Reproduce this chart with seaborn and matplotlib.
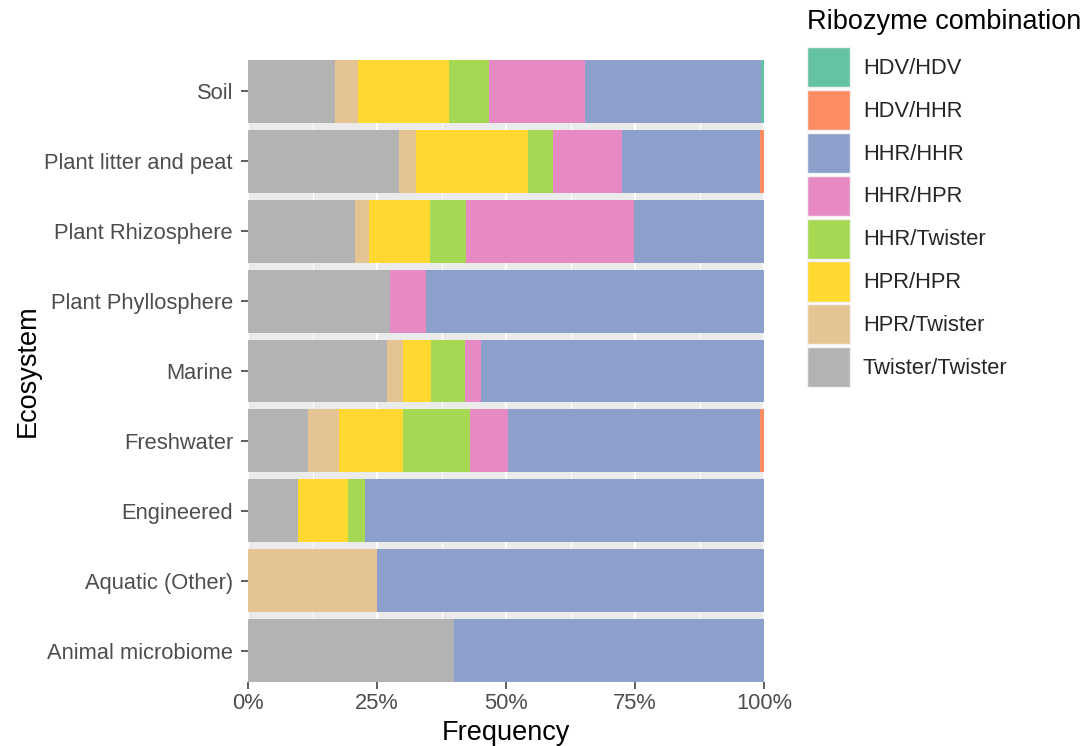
import pandas as pd
import seaborn as sns
import matplotlib.pyplot as plt
from matplotlib.patches import Patch
from matplotlib.ticker import FixedLocator, FuncFormatter

ecosystems = ['Soil', 'Plant litter and peat', 'Plant Rhizosphere', 'Plant Phyllosphere',
              'Marine', 'Freshwater', 'Engineered', 'Aquatic (Other)', 'Animal microbiome']

# percent of each ribozyme combination per ecosystem
twister_twister = [16.9, 29.2, 20.8, 27.5, 26.9, 11.7, 9.7, 0.0, 40.0]
hpr_twister = [4.5, 3.3, 2.6, 0.0, 3.2, 5.9, 0.0, 25.0, 0.0]
hpr_hpr = [17.6, 21.7, 11.8, 0.0, 5.4, 12.4, 9.6, 0.0, 0.0]
hhr_twister = [7.7, 5.0, 7.1, 0.0, 6.5, 13.1, 3.3, 0.0, 0.0]
hhr_hpr = [18.6, 13.3, 32.5, 6.9, 3.2, 7.3, 0.0, 0.0, 0.0]
hhr_hhr = [34.2, 26.7, 25.2, 65.6, 54.8, 48.8, 77.4, 75.0, 60.0]
hdv_hhr = [0.0, 0.8, 0.0, 0.0, 0.0, 0.8, 0.0, 0.0, 0.0]
hdv_hdv = [0.5, 0.0, 0.0, 0.0, 0.0, 0.0, 0.0, 0.0, 0.0]

combos = ['HDV/HDV', 'HDV/HHR', 'HHR/HHR', 'HHR/HPR', 'HHR/Twister',
          'HPR/HPR', 'HPR/Twister', 'Twister/Twister']
colors = ['#66C2A5', '#FC8D62', '#8DA0CB', '#E78AC3', '#A6D854',
          '#FFD92F', '#E5C494', '#B3B3B3']

df = pd.DataFrame({'ecosystem': ecosystems,
                   'Twister/Twister': twister_twister,
                   'HPR/Twister': hpr_twister,
                   'HPR/HPR': hpr_hpr,
                   'HHR/Twister': hhr_twister,
                   'HHR/HPR': hhr_hpr,
                   'HHR/HHR': hhr_hhr,
                   'HDV/HHR': hdv_hhr,
                   'HDV/HDV': hdv_hdv})

sns.set_style('white')
plt.rcParams['font.family'] = ['Liberation Sans', 'DejaVu Sans']

fig = plt.figure(figsize=(10.91, 7.46), dpi=100)
ax = fig.add_axes([248 / 1091, 64 / 746, 516 / 1091, 622 / 746])

# stacked bars: draw cumulative totals, widest first
stack_order = combos[::-1]  # Twister/Twister leftmost
for i in range(len(stack_order), 0, -1):
    cols = stack_order[:i]
    tmp = pd.DataFrame({'ecosystem': ecosystems, 'cum': df[cols].sum(axis=1)})
    sns.barplot(data=tmp, x='cum', y='ecosystem', order=ecosystems, orient='h',
                color=colors[combos.index(stack_order[i - 1])], saturation=1,
                width=0.9, linewidth=0, errorbar=None, ax=ax, zorder=2)

ax.set_facecolor('#EBEBEB')
ax.set_xlim(0, 100)
ax.set_ylim(len(ecosystems) - 0.55, -0.45)
ax.xaxis.set_major_locator(FixedLocator([0, 25, 50, 75, 100]))
ax.xaxis.set_minor_locator(FixedLocator([12.5, 37.5, 62.5, 87.5]))
ax.xaxis.set_major_formatter(FuncFormatter(lambda v, p: f'{v:.0f}%'))
ax.grid(True, axis='x', which='major', color='white', linewidth=1.4, zorder=0)
ax.grid(True, axis='x', which='minor', color='white', linewidth=0.7, zorder=0)
ax.set_axisbelow(True)
for s in ax.spines.values():
    s.set_visible(False)

ax.tick_params(axis='both', which='major', length=5, width=1.1, color='#333333',
               labelsize=15.75, labelcolor='#4D4D4D', bottom=True, left=True)
ax.tick_params(axis='x', which='major', pad=3)
ax.tick_params(axis='y', which='major', pad=5.8)
ax.tick_params(axis='x', which='minor', length=0)
ax.set_xlabel('Frequency', fontsize=19.5, color='black', labelpad=4.5)
ax.set_ylabel('Ecosystem', fontsize=19.5, color='black', labelpad=2.4)

# legend: title as separate text so the gap above the keys matches
fig.text(807 / 1091, 1 - 22 / 746, 'Ribozyme combination', fontsize=19.5,
         color='black', ha='left', va='center')
handles = [Patch(facecolor=c, edgecolor='#F2F2F2', linewidth=1) for c in colors]
fig.legend(handles, combos, loc='upper left', bbox_to_anchor=(807 / 1091, 1 - 47 / 746),
           frameon=False, fontsize=15.75, handlelength=1.95, handleheight=2.44,
           labelspacing=0.13, handletextpad=0.6, borderpad=0, borderaxespad=0)

fig.savefig('out.png', dpi=100)
